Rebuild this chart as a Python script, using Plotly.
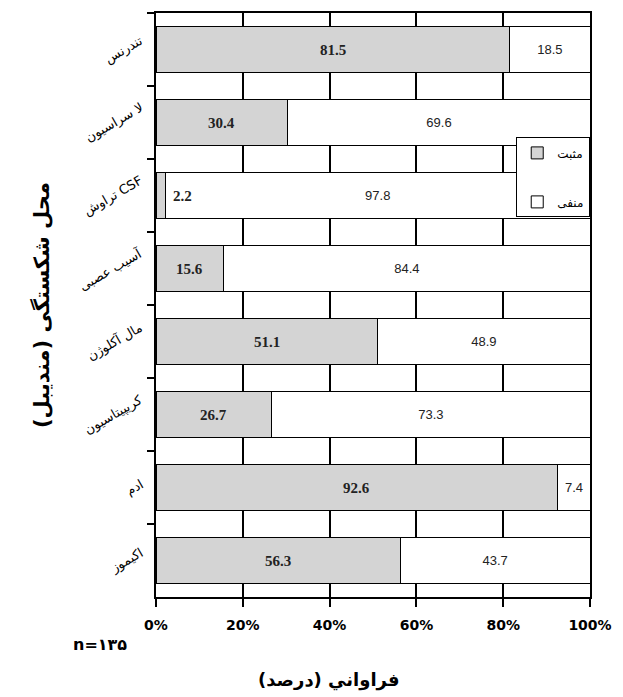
import plotly.graph_objects as go

categories = ["تندرنس", "لا سراسیون", "تراوش CSF", "آسیب عصبی",
              "مال آکلوژن", "کریپیتاسیون", "ادم", "اکیموز"]
positive = [81.5, 30.4, 2.2, 15.6, 51.1, 26.7, 92.6, 56.3]
negative = [18.5, 69.6, 97.8, 84.4, 48.9, 73.3, 7.4, 43.7]
x_ticks = [0, 20, 40, 60, 80, 100]
x_tick_labels = ["0%", "20%", "40%", "60%", "80%", "100%"]

fig = go.Figure()
fig.add_trace(go.Bar(
    y=categories, x=positive, orientation="h", name="مثبت",
    legendgroup="a",
    marker=dict(color="#d4d4d4", line=dict(color="black", width=1)),
    hoverinfo="skip",
))
fig.add_trace(go.Bar(
    y=categories, x=negative, orientation="h", name="منفی",
    legendgroup="b",
    marker=dict(color="white", line=dict(color="black", width=1)),
    text=[f"{v:.1f}" for v in negative], textposition="inside",
    insidetextanchor="middle",
    textfont=dict(family="Liberation Sans", size=13, color="#222"),
    hoverinfo="skip",
))

for c, v in zip(categories, positive):
    fig.add_annotation(
        x=v / 2, y=c, xref="x", yref="y", text=f"<b>{v:.1f}</b>",
        showarrow=False, xshift=22 if v < 5 else 0,
        xanchor="center", yanchor="middle",
        font=dict(family="Liberation Serif", size=15, color="#222"),
    )

for c in categories:
    fig.add_annotation(
        x=-0.018, y=c, xref="paper", yref="y", text=c,
        showarrow=False, textangle=-30,
        xanchor="right", yanchor="middle",
        font=dict(family="DejaVu Sans", size=13, color="black"),
    )

fig.add_annotation(
    x=-0.265, y=0.5, xref="paper", yref="paper",
    text="<b>محل شکستگی (مندیبل)</b>", textangle=-90, showarrow=False,
    xanchor="center", yanchor="middle",
    font=dict(family="DejaVu Sans", size=21, color="black"),
)
fig.add_annotation(
    x=0.398, y=-0.1416, xref="paper", yref="paper",
    text="<b>فراواني (درصد)</b>", showarrow=False,
    xanchor="center", yanchor="middle",
    font=dict(family="DejaVu Sans", size=18, color="black"),
)
fig.add_annotation(
    x=-0.128, y=-0.082, xref="paper", yref="paper",
    text="<b>n=۱۳۵</b>", showarrow=False,
    xanchor="center", yanchor="middle",
    font=dict(family="DejaVu Sans", size=16, color="black"),
)

fig.update_layout(
    width=623, height=697,
    margin=dict(l=156, r=30, t=11, b=100),
    barmode="stack", bargap=0.36,
    plot_bgcolor="white", paper_bgcolor="white",
    showlegend=True,
    legend=dict(
        x=0.83, y=0.787, xanchor="left", yanchor="top",
        bgcolor="white", bordercolor="black", borderwidth=1,
        traceorder="grouped", tracegroupgap=30,
        font=dict(family="DejaVu Sans", size=12, color="black"),
        itemwidth=30,
    ),
    xaxis=dict(
        range=[0, 100], tickvals=x_ticks, ticktext=x_tick_labels,
        showgrid=True, gridcolor="black", gridwidth=1.5,
        showline=True, linecolor="black", linewidth=2, mirror=True,
        ticks="outside", ticklen=8, tickwidth=2, tickcolor="black",
        ticklabelstandoff=6,
        tickfont=dict(family="DejaVu Sans", size=14, color="black", weight="bold"),
        zeroline=False, fixedrange=True,
    ),
    yaxis=dict(
        autorange="reversed", type="category",
        showgrid=False, tickson="boundaries", showticklabels=False,
        showline=True, linecolor="black", linewidth=2, mirror=True,
        ticks="outside", ticklen=7, tickwidth=2, tickcolor="black",
        fixedrange=True,
    ),
)

fig.write_html("out.html", config={"displayModeBar": False},
               post_script="document.body.style.margin='0';")
